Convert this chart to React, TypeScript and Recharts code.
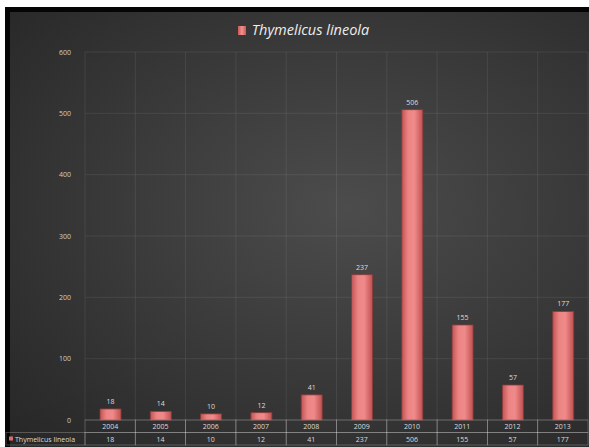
import { BarChart, Bar, XAxis, YAxis, CartesianGrid, LabelList } from "recharts";

const years = ["2004", "2005", "2006", "2007", "2008", "2009", "2010", "2011", "2012", "2013"];
const counts = [18, 14, 10, 12, 41, 237, 506, 155, 57, 177];
const yTicks = [0, 100, 200, 300, 400, 500, 600];
const seriesName = "Thymelicus lineola";

const data = years.map((year, i) => ({ year, count: counts[i] }));

const W = 589;
const H = 447;
const PLOT_LEFT = 85;
const PLOT_RIGHT = 1;
const PLOT_W = W - PLOT_LEFT - PLOT_RIGHT;
const ROW_H = 12.5;
const lineColor = "rgba(255,255,255,0.28)";
const textColor = "#dcdcdc";

const TableTick = (props: any) => {
  const { x, y, payload, index } = props;
  const band = PLOT_W / years.length;
  const left = x - band / 2;
  return (
    <g>
      <rect x={left} y={y} width={band} height={ROW_H} fill="none" stroke={lineColor} strokeWidth={0.8} />
      <rect x={left} y={y + ROW_H} width={band} height={ROW_H} fill="none" stroke={lineColor} strokeWidth={0.8} />
      <text x={x} y={y + 9} textAnchor="middle" fontSize={7} fill={textColor}>
        {payload.value}
      </text>
      <text x={x} y={y + ROW_H + 9} textAnchor="middle" fontSize={7} fill={textColor}>
        {counts[index]}
      </text>
      {index === 0 && (
        <g>
          <rect x={6} y={y + ROW_H} width={left - 6} height={ROW_H} fill="none" stroke={lineColor} strokeWidth={0.8} />
          <rect x={9} y={y + ROW_H + 4} width={4} height={4} fill="#e06a6a" />
          <text x={15} y={y + ROW_H + 9} fontSize={7} fill={textColor}>
            {seriesName}
          </text>
        </g>
      )}
    </g>
  );
};

const YTick = (props: any) => {
  const { x, y, payload } = props;
  return (
    <text x={x} y={y + 2.5} textAnchor="end" fontSize={7} fill="#d0d0d0" stroke="none">
      {payload.value}
    </text>
  );
};

export default function App() {
  return (
    <div style={{ position: "fixed", left: 0, top: 0, width: W, height: H, background: "#ffffff", fontFamily: "'Open Sans', sans-serif", overflow: "hidden" }}>
      <div style={{ position: "absolute", left: 5, top: 7, width: W - 5, height: H - 7, background: "#050505" }} />
      <div
        style={{
          position: "absolute",
          left: 10,
          top: 12,
          width: W - 10,
          height: H - 12,
          background: "radial-gradient(ellipse at 58% 45%, #4c4c4c 0%, #3b3b3b 45%, #262626 100%)",
        }}
      />
      <div
        style={{
          position: "absolute",
          left: 0,
          top: 19,
          width: W,
          display: "flex",
          alignItems: "center",
          justifyContent: "center",
          fontStyle: "italic",
          fontSize: 14.5,
          lineHeight: "22px",
          color: "#eeeeee",
          paddingLeft: 18,
          boxSizing: "border-box",
        }}
      >
        <span
          style={{
            display: "inline-block",
            width: 8,
            height: 9,
            marginRight: 6,
            background: "linear-gradient(90deg,#c85858,#f29090,#c85858)",
          }}
        />
        {seriesName}
      </div>
      <div style={{ position: "absolute", left: 0, top: 0 }}>
        <BarChart
          width={W}
          height={H}
          data={data}
          margin={{ top: 52, right: PLOT_RIGHT, bottom: 0, left: 0 }}
          barCategoryGap="0%"
        >
          <defs>
            <linearGradient id="barFill" x1="0" y1="0" x2="1" y2="0">
              <stop offset="0%" stopColor="#c25454" />
              <stop offset="30%" stopColor="#ec8484" />
              <stop offset="60%" stopColor="#f08a8a" />
              <stop offset="100%" stopColor="#c05050" />
            </linearGradient>
          </defs>
          <CartesianGrid
            stroke="rgba(255,255,255,0.08)"
            verticalCoordinatesGenerator={({ offset }: any) =>
              years.map((_, i) => offset.left + (i * offset.width) / years.length).concat([offset.left + offset.width])
            }
          />
          <XAxis
            dataKey="year"
            axisLine={false}
            tickLine={false}
            tickSize={0}
            tickMargin={0}
            height={27}
            interval={0}
            tick={<TableTick />}
          />
          <YAxis
            domain={[0, 600]}
            ticks={yTicks}
            width={PLOT_LEFT}
            axisLine={false}
            tickLine={false}
            tickMargin={8}
            tick={<YTick />}
          />
          <Bar dataKey="count" name={seriesName} fill="url(#barFill)" stroke="#8c3a3a" strokeWidth={0.8} barSize={21} isAnimationActive={false}>
            <LabelList dataKey="count" position="top" offset={5} fontSize={7} fill={textColor} />
          </Bar>
        </BarChart>
      </div>
    </div>
  );
}
